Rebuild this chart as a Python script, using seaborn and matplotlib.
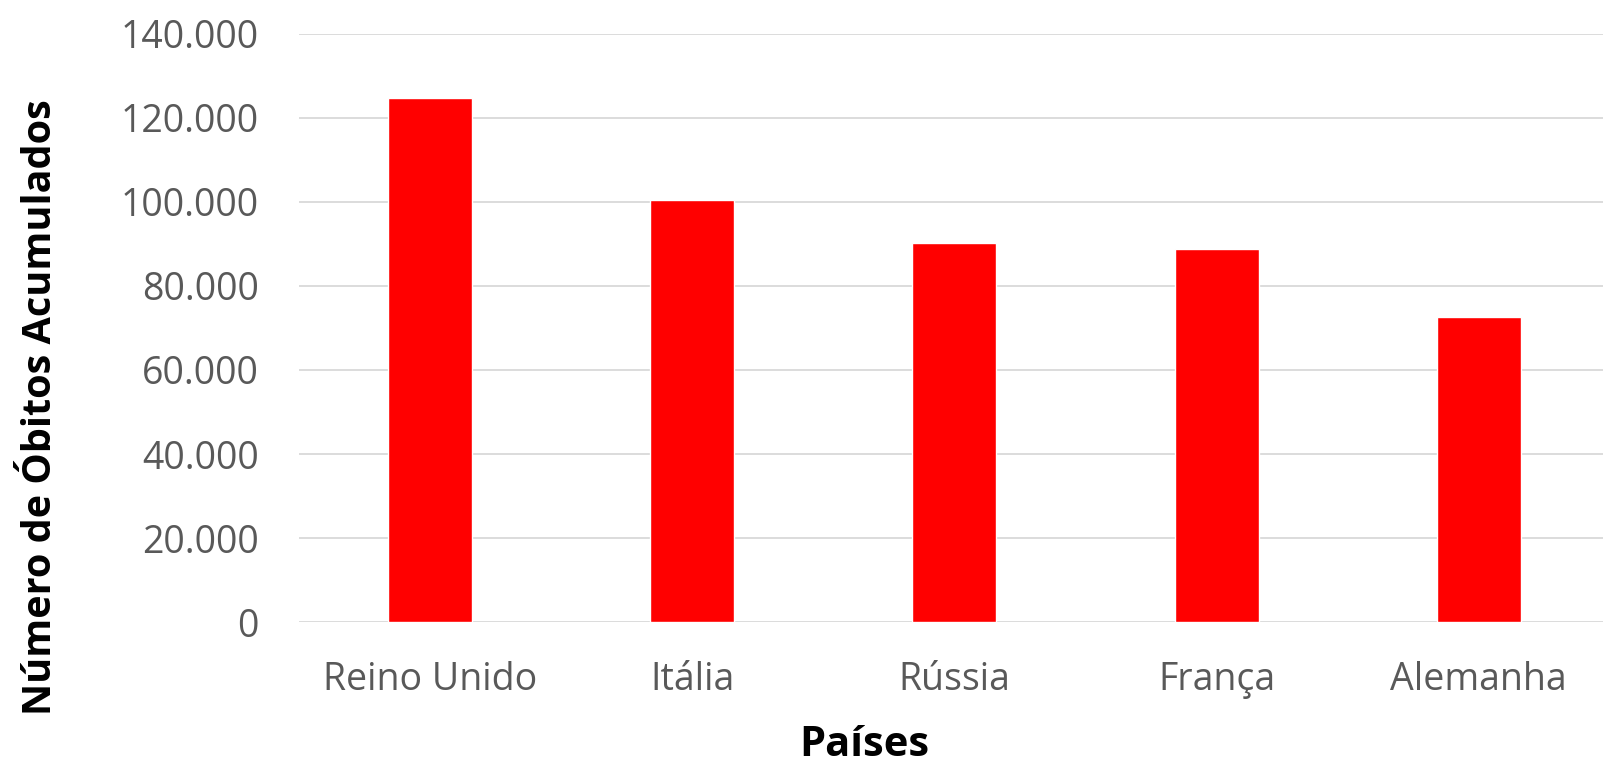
"""Bar chart: accumulated COVID deaths by country (recreation)."""

import matplotlib
matplotlib.use("Agg")
import matplotlib.pyplot as plt
from matplotlib.ticker import FuncFormatter, MultipleLocator
import seaborn as sns

# Data
paises = ["Reino Unido", "Itália", "Rússia", "França", "Alemanha"]
obitos = [124800, 100400, 90200, 88700, 72500]

y_label = "Número de Óbitos Acumulados"
x_label = "Países"


def thousands(v, _pos):
    return f"{v:,.0f}".replace(",", ".")


def plot_chart() -> None:
    sns.set_style("white")
    plt.rcParams["font.family"] = ["Open Sans", "DejaVu Sans"]

    fig = plt.figure(figsize=(16.03, 7.65), dpi=100)
    # plot area runs a little past the right edge, as in the original export
    ax = fig.add_axes([0.1865, 0.1869, 0.8178, 0.7687])

    sns.barplot(x=paises, y=obitos, color="#FF0000", saturation=1,
                width=0.32, ax=ax, zorder=3)

    ax.set_ylim(0, 140000)
    ax.set_xlim(-0.5, len(paises) - 0.5)
    ax.yaxis.set_major_locator(MultipleLocator(20000))
    ax.yaxis.set_major_formatter(FuncFormatter(thousands))

    ax.grid(axis="y", color="#d9d9d9", linewidth=1.3, zorder=0)
    ax.grid(axis="x", visible=False)
    for side in ax.spines.values():
        side.set_visible(False)

    ax.tick_params(axis="both", length=0, labelsize=27, labelcolor="#595959")
    ax.tick_params(axis="y", pad=29)
    ax.tick_params(axis="x", pad=28)

    ax.set_ylabel(y_label, fontsize=28.5, fontweight="bold", color="black")
    ax.yaxis.set_label_coords(-0.197, 0.365)
    ax.yaxis.label.set_va("center")
    ax.set_xlabel(x_label, fontsize=30, fontweight="bold", color="black")
    ax.xaxis.set_label_coords(0.431, -0.21)
    ax.xaxis.label.set_va("center")

    fig.savefig("out.png", dpi=100)
    plt.close(fig)


if __name__ == "__main__":
    plot_chart()
